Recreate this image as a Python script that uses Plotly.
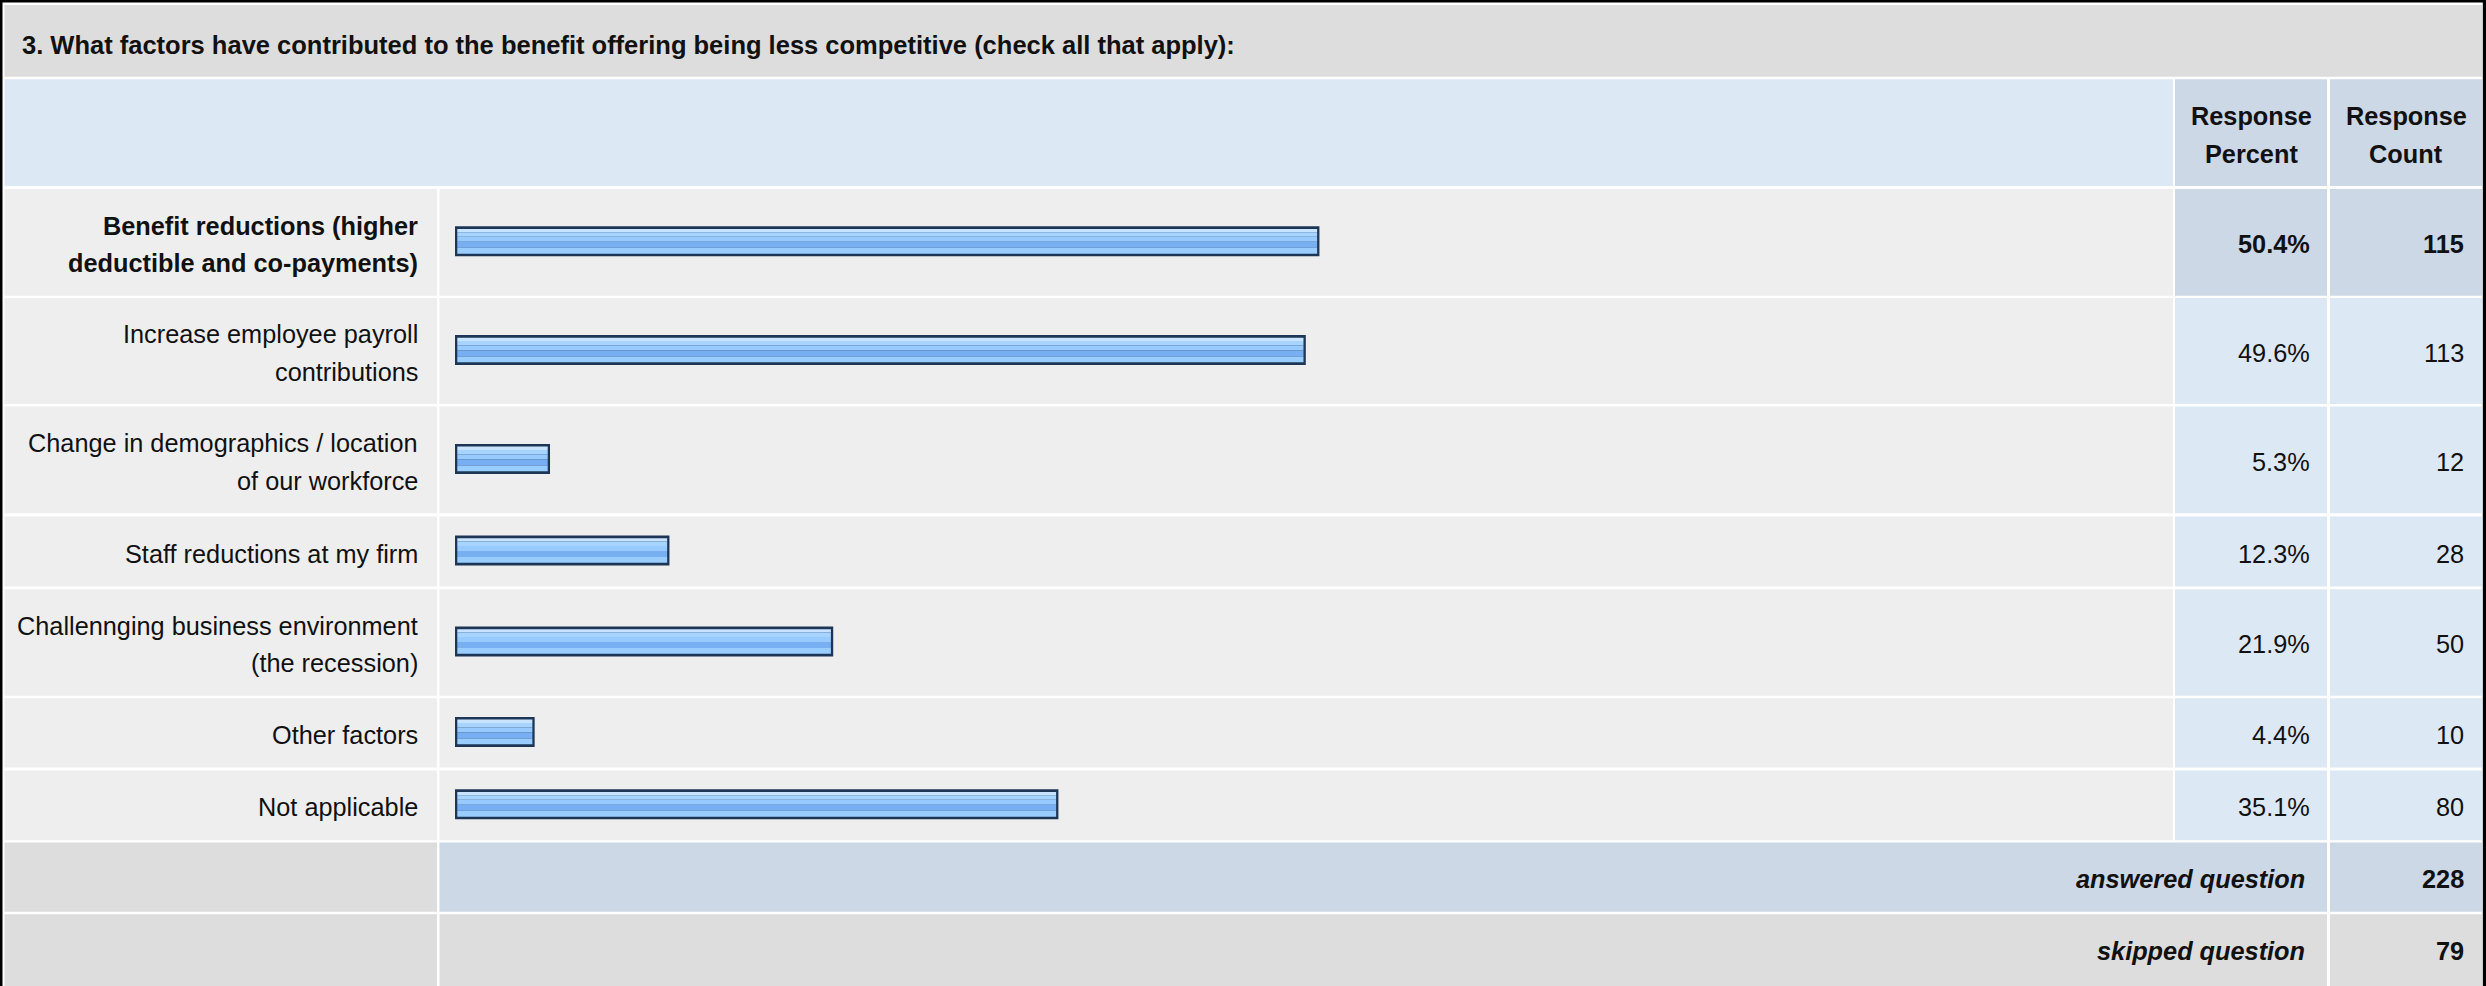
import plotly.graph_objects as go

# ---------------- data ----------------
question = "3. What factors have contributed to the benefit offering being less competitive (check all that apply):"
categories = [
    "Benefit reductions (higher<br>deductible and co-payments)",
    "Increase employee payroll<br>contributions",
    "Change in demographics / location<br>of our workforce",
    "Staff reductions at my firm",
    "Challennging business environment<br>(the recession)",
    "Other factors",
    "Not applicable",
]
response_percent = [50.4, 49.6, 5.3, 12.3, 21.9, 4.4, 35.1]
response_count = [115, 113, 12, 28, 50, 10, 80]
header_labels = ["Response<br>Percent", "Response<br>Count"]
answered_question = 228
skipped_question = 79

# ---------------- layout geometry (pixels) ----------------
W, H = 2486, 986
FONT = "Liberation Sans, Arial, Helvetica, sans-serif"
FS = 25.3
TXT = "#111111"

col_label = (4.5, 437)
col_bar = (439.5, 2173)
col_pct = (2175, 2327)
col_cnt = (2330, 2482)

row_title = (5, 76.7)
row_header = (79.3, 186)
row_bounds = [(189, 295.7), (298, 404), (406.5, 513.3), (516.5, 586.6),
              (589.2, 695.7), (698.3, 767.5), (770.5, 840.2)]
row_answered = (842.6, 911.7)
row_skipped = (914.3, 990)

BAR_ZERO = 457.3        # pixel of 0 %
PX_PER_PCT = 17.06
BORDER_PX = 2.3
LINE_GAP = 37.5

C_GRAY = "#DDDDDD"
C_ROW = "#EEEEEE"
C_LBLUE = "#DDE8F5"
C_DBLUE = "#CCD8E6"


def fx(x):
    return x / W


def fy(y):
    return 1 - y / H


shapes = []


def rect(x0, x1, y0, y1, color):
    shapes.append(dict(type="rect", xref="paper", yref="paper",
                       x0=fx(x0), x1=fx(x1), y0=fy(y1), y1=fy(y0),
                       fillcolor=color, line=dict(width=0), layer="below"))


annotations = []


def text(x, y, s, anchor="right", bold=False, italic=False, size=FS):
    if bold:
        s = "<b>" + s + "</b>"
    if italic:
        s = "<i>" + s + "</i>"
    annotations.append(dict(x=fx(x), y=fy(y), xref="paper", yref="paper",
                            text=s, showarrow=False, xanchor=anchor, yanchor="middle",
                            font=dict(family=FONT, size=size, color=TXT)))


def multiline(x, yc, s, anchor="right", bold=False, italic=False):
    lines = s.split("<br>")
    n = len(lines)
    for i, ln in enumerate(lines):
        y = yc + (i - (n - 1) / 2) * LINE_GAP
        text(x, y, ln, anchor=anchor, bold=bold, italic=italic)


# outer black frame
rect(0, W, 0, 2.5, "#000000")
rect(0, 2.5, 0, H, "#000000")
rect(W - 3.2, W, 0, H, "#000000")

# title row
rect(col_label[0], col_cnt[1], row_title[0], row_title[1], C_GRAY)
text(20, 45, question, anchor="left", bold=True, size=25.5)

# header row
rect(col_label[0], col_bar[1], row_header[0], row_header[1], C_LBLUE)
rect(col_pct[0], col_pct[1], row_header[0], row_header[1], C_DBLUE)
rect(col_cnt[0], col_cnt[1], row_header[0], row_header[1], C_DBLUE)
hc = (row_header[0] + row_header[1]) / 2 + 2.5
multiline((col_pct[0] + col_pct[1]) / 2, hc, header_labels[0], anchor="center", bold=True)
multiline((col_cnt[0] + col_cnt[1]) / 2, hc, header_labels[1], anchor="center", bold=True)

top_idx = response_percent.index(max(response_percent))
bar_centers = []
for i, (cat, p, c) in enumerate(zip(categories, response_percent, response_count)):
    y0, y1 = row_bounds[i]
    yc = (y0 + y1) / 2
    bar_centers.append(yc - 1)
    hi = (i == top_idx)
    rect(col_label[0], col_label[1], y0, y1, C_ROW)
    rect(col_bar[0], col_bar[1], y0, y1, C_ROW)
    rect(col_pct[0], col_pct[1], y0, y1, C_DBLUE if hi else C_LBLUE)
    rect(col_cnt[0], col_cnt[1], y0, y1, C_DBLUE if hi else C_LBLUE)
    multiline(420, yc + 2, cat, bold=hi)
    text(2312, yc + 2, f"{p:.1f}%", bold=hi)
    text(2466, yc + 2, str(c), bold=hi)

# answered / skipped rows
for (y0, y1), col, lab, val in [(row_answered, C_DBLUE, "answered question", answered_question),
                                (row_skipped, C_GRAY, "skipped question", skipped_question)]:
    yc = (y0 + y1) / 2
    if y1 > H:
        yc = (y0 + y0 + 69.5) / 2
    rect(col_label[0], col_label[1], y0, y1, C_GRAY)
    rect(col_bar[0], col_pct[1], y0, y1, col)
    rect(col_cnt[0], col_cnt[1], y0, y1, col)
    text(2307, yc + 2, lab, bold=True, italic=True)
    text(2466, yc + 2, str(val), bold=True)

# ---------------- bars ----------------
b = BORDER_PX / PX_PER_PCT
x_lo = (0 - BAR_ZERO) / PX_PER_PCT
x_hi = (W - BAR_ZERO) / PX_PER_PCT

fig = go.Figure()
# outer (border) bar
fig.add_trace(go.Bar(
    x=[p + 2 * b for p in response_percent], y=bar_centers, base=[-b] * len(response_percent),
    orientation="h", width=30, offset=-15,
    marker=dict(color="#1E3656", line=dict(width=0)), hoverinfo="skip", showlegend=False))

stripes = [(-12.3, -9, "#C8E3FF"), (-9, -4.5, "#A6D3FF"), (-4.5, 0.5, "#97CAFF"),
           (0.5, 6.5, "#78AFF2"), (6.5, 12.3, "#9ACDFF")]
for t0, t1, colr in stripes:
    fig.add_trace(go.Bar(
        x=response_percent, y=bar_centers, base=[0] * len(response_percent),
        orientation="h", width=t1 - t0, offset=t0,
        marker=dict(color=colr, line=dict(width=0)), hoverinfo="skip", showlegend=False))

fig.update_layout(
    width=W, height=H, autosize=False,
    margin=dict(l=0, r=0, t=0, b=0, pad=0),
    paper_bgcolor="#FFFFFF", plot_bgcolor="rgba(0,0,0,0)",
    barmode="overlay",
    xaxis=dict(range=[x_lo, x_hi], domain=[0, 1], visible=False, fixedrange=True),
    yaxis=dict(range=[H, 0], domain=[0, 1], visible=False, fixedrange=True),
    shapes=shapes, annotations=annotations,
    hovermode=False,
)

fig.write_html("out.html", config={"displayModeBar": False})
